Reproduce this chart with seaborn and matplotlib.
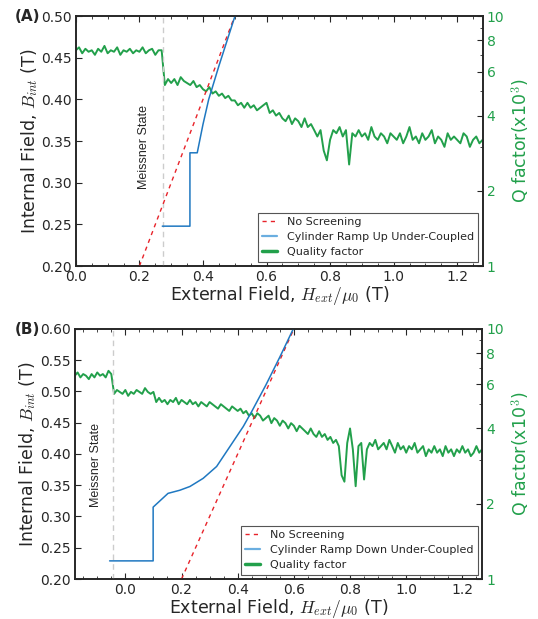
import numpy as np
import pandas as pd
import matplotlib
matplotlib.use('Agg')
import matplotlib.pyplot as plt
from matplotlib.lines import Line2D
from matplotlib.ticker import FixedLocator, NullFormatter, MultipleLocator
import seaborn as sns

# ---- data ----
# panel A: ramp up
nos_a_h = [0.2, 0.5]
nos_a_b = [0.2, 0.5]
ramp_up_h = [0.272, 0.359, 0.359, 0.382, 0.40, 0.418, 0.45, 0.505]
ramp_up_b = [0.248, 0.248, 0.336, 0.336, 0.37, 0.40, 0.44, 0.505]
meissner_a = 0.274
q_a_start, q_a_end = 0.0, 1.28
q_a = [7.3, 7.5, 7.1, 7.4, 7.2, 7.3, 7.0, 7.4, 7.2, 7.6,
       7.1, 7.3, 7.2, 7.5, 7.0, 7.3, 7.2, 7.4, 7.1, 7.3,
       7.2, 7.5, 7.1, 7.3, 7.4, 7.0, 7.3,
       7.3, 5.3, 5.6,
       5.4, 5.6, 5.3, 5.7, 5.5, 5.4, 5.3, 5.5, 5.2, 5.3,
       5.1, 5.0, 5.2, 4.9, 5.0, 4.8, 4.9, 4.7, 4.8, 4.6,
       4.6, 4.4, 4.5, 4.3, 4.5, 4.3, 4.4, 4.2, 4.3, 4.4,
       4.5, 4.1, 4.2, 4.0, 4.1, 3.9, 3.8, 4.0, 3.7, 3.9,
       3.8, 3.6, 3.9, 3.6, 3.7, 3.5, 3.3, 3.5, 2.9, 2.65,
       3.2, 3.5, 3.4, 3.6, 3.3, 3.5, 2.55, 3.4, 3.3, 3.5,
       3.3, 3.4, 3.2, 3.6, 3.3, 3.2, 3.4, 3.3, 3.1, 3.4,
       3.3, 3.2, 3.4, 3.1, 3.3, 3.6, 3.2, 3.3, 3.1, 3.4,
       3.2, 3.3, 3.5, 3.1, 3.3, 3.2, 3.0, 3.4, 3.2, 3.3,
       3.2, 3.1, 3.4, 3.3, 3.0, 3.2, 3.3, 3.1, 3.2]

# panel B: ramp down
nos_b_h = [0.2, 0.6]
nos_b_b = [0.2, 0.6]
ramp_down_h = [-0.056, 0.099, 0.099, 0.152, 0.194, 0.23, 0.277, 0.325,
               0.3725, 0.42, 0.45, 0.5, 0.55, 0.6]
ramp_down_b = [0.229, 0.229, 0.315, 0.337, 0.342, 0.348, 0.361, 0.38,
               0.412, 0.444, 0.468, 0.51, 0.555, 0.602]
meissner_b = -0.045
q_b_start, q_b_end = -0.18, 1.27
q_b = [6.5, 6.7, 6.4, 6.6, 6.5, 6.3, 6.6, 6.4, 6.7, 6.5,
       6.6, 6.4, 6.8, 6.6,
       5.5, 5.7, 5.6, 5.5, 5.7, 5.4, 5.6, 5.5, 5.7, 5.6,
       5.5, 5.8, 5.6, 5.5, 5.6,
       5.1, 5.3, 5.1, 5.2, 5.0, 5.2, 5.1, 5.3, 5.0, 5.2,
       5.1, 5.0, 5.2, 5.0, 5.1, 4.9, 5.1, 5.0, 4.9, 5.1,
       5.0, 4.9, 4.8, 5.0, 4.9, 4.8, 4.7, 4.9, 4.8, 4.7,
       4.8, 4.6, 4.7, 4.5, 4.6, 4.4, 4.6, 4.5, 4.3, 4.4,
       4.5, 4.2, 4.4, 4.3, 4.1, 4.3, 4.2, 4.0, 4.2, 4.1,
       3.9, 4.1, 4.0, 3.9, 3.8, 4.0, 3.8, 3.7, 3.9, 3.7,
       3.8, 3.6, 3.7, 3.5, 3.6, 3.4, 2.6, 2.45, 3.5, 4.0,
       3.3, 2.35, 3.4, 3.5, 2.5, 3.3, 3.5, 3.4, 3.6, 3.3,
       3.4, 3.5, 3.3, 3.6, 3.4, 3.2, 3.5, 3.3, 3.4, 3.2,
       3.4, 3.3, 3.5, 3.2, 3.3, 3.4, 3.1, 3.3, 3.2, 3.4,
       3.2, 3.3, 3.1, 3.4, 3.2, 3.3, 3.1, 3.3, 3.2, 3.4,
       3.2, 3.3, 3.1, 3.2, 3.4, 3.2, 3.3]

RED = '#e8232a'
BLUE = '#1f78c1'
GREEN = '#22a04b'
DARK = '#262626'

sns.set_style('ticks')
plt.rcParams['font.family'] = ['DejaVu Sans']
plt.rcParams['mathtext.fontset'] = 'cm'
plt.rcParams['xtick.direction'] = 'in'
plt.rcParams['ytick.direction'] = 'in'

fig = plt.figure(figsize=(5.38, 6.19), dpi=100)


def panel(pos, nos_h, nos_b, ramp_h, ramp_b, ramp_label, meis_x, meis_y,
          q, q_start, q_end, xlim, ylim, tag, tag_y):
    ax = fig.add_axes(pos)
    ax2 = ax.twinx()

    qdf = pd.DataFrame({'h': np.linspace(q_start, q_end, len(q)), 'q': q})
    sns.lineplot(data=qdf, x='h', y='q', ax=ax2, color=GREEN, lw=1.4,
                 estimator=None, sort=False)
    ax2.set_yscale('log')
    ax2.set_ylim(1, 10)

    ax.axvline(meis_x, color='#cccccc', lw=1, ls=(0, (4, 3)))
    sns.lineplot(x=nos_h, y=nos_b, ax=ax, color=RED, lw=1,
                 estimator=None, sort=False)
    ax.lines[-1].set_linestyle((0, (3, 3)))
    sns.lineplot(x=ramp_h, y=ramp_b, ax=ax, color=BLUE, lw=1.1,
                 estimator=None, sort=False)
    ax.text(meis_x - 0.06, meis_y, 'Meissner State', rotation=90,
            ha='center', va='center', fontsize=9, family='Liberation Sans',
            color=DARK)

    ax.set_zorder(ax2.get_zorder() + 1)
    ax.patch.set_visible(False)

    ax.set_xlim(*xlim)
    ax.set_ylim(*ylim)
    ax.yaxis.set_major_locator(MultipleLocator(0.05))
    ax.xaxis.set_major_locator(MultipleLocator(0.2))
    ax.xaxis.set_minor_locator(MultipleLocator(0.05))
    ax.yaxis.set_major_formatter(matplotlib.ticker.FormatStrFormatter('%.2f'))
    ax.tick_params(axis='both', which='both', top=True, labelsize=10,
                   colors=DARK, pad=3)
    ax.tick_params(axis='y', right=False)
    ax.tick_params(which='major', length=4)
    ax.tick_params(which='minor', length=2)
    ax.set_xlabel(r'External Field, $H_{ext}/\mu_0$ (T)', fontsize=12.5,
                  color=DARK, labelpad=0)
    ax.set_ylabel(r'Internal Field, $B_{int}$ (T)', fontsize=12.5, color=DARK,
                  labelpad=1)

    ax2.yaxis.set_major_locator(FixedLocator([1, 2, 4, 6, 8, 10]))
    ax2.yaxis.set_minor_locator(FixedLocator([3, 5, 7, 9]))
    ax2.yaxis.set_minor_formatter(NullFormatter())
    ax2.set_yticklabels(['1', '2', '4', '6', '8', '10'])
    ax2.tick_params(axis='y', which='both', colors=DARK, labelcolor=GREEN,
                    labelsize=10, direction='in', pad=3)
    ax2.tick_params(axis='y', which='major', length=4)
    ax2.tick_params(axis='y', which='minor', length=2)
    ax2.set_ylabel(r'Q factor(x10$^3$)', fontsize=12.5, color=GREEN, labelpad=4)
    ax2.set_xlabel('')

    for a in (ax, ax2):
        for s in a.spines.values():
            s.set_color(DARK)
            s.set_linewidth(1.2)

    handles = [Line2D([], [], color=RED, lw=1, ls=(0, (3, 3))),
               Line2D([], [], color='#6aaee0', lw=1.6),
               Line2D([], [], color=GREEN, lw=2.5)]
    labels = ['No Screening', ramp_label, 'Quality factor']
    leg = ax.legend(handles, labels, loc='lower right', fontsize=8,
                    fancybox=False, framealpha=1, edgecolor='#555555',
                    handlelength=1.3, handletextpad=0.9, borderaxespad=0.4,
                    labelspacing=0.45)
    leg.get_frame().set_linewidth(0.8)
    for t in leg.get_texts():
        t.set_color(DARK)

    fig.text(0.028, tag_y, tag, fontsize=11, fontweight='bold', color=DARK,
             ha='left', va='center')
    return ax


panel([0.141, 0.570, 0.756, 0.404], nos_a_h, nos_a_b, ramp_up_h, ramp_up_b,
      'Cylinder Ramp Up Under-Coupled', meissner_a, 0.343,
      q_a, q_a_start, q_a_end, (0.0, 1.28), (0.2, 0.5), '(A)', 0.974)

panel([0.139, 0.0646, 0.757, 0.404], nos_b_h, nos_b_b, ramp_down_h,
      ramp_down_b, 'Cylinder Ramp Down Under-Coupled', meissner_b, 0.382,
      q_b, q_b_start, q_b_end, (-0.18, 1.27), (0.2, 0.6), '(B)', 0.467)

fig.savefig('out.png', dpi=100)
